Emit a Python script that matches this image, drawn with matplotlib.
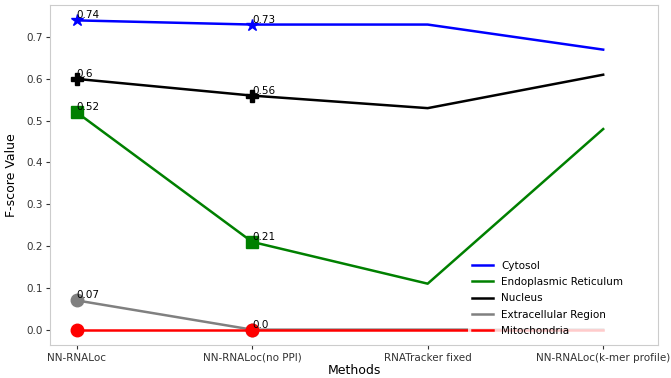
import matplotlib
matplotlib.use('Agg')
import matplotlib.pyplot as plt

# data
methods = ['NN-RNALoc', 'NN-RNALoc(no PPI)', 'RNATracker fixed', 'NN-RNALoc(k-mer profile)']
cytosol = [0.74, 0.73, 0.73, 0.67]
er = [0.52, 0.21, 0.11, 0.48]
nucleus = [0.60, 0.56, 0.53, 0.61]
extracellular = [0.07, 0.0, 0.0, 0.0]
mito = [0.0, 0.0, 0.0, 0.0]

series = [
    ('Cytosol', cytosol, 'blue', '*', True),
    ('Endoplasmic Reticulum', er, 'green', 's', True),
    ('Nucleus', nucleus, 'black', 'P', True),
    ('Extracellular Region', extracellular, 'grey', 'o', True),
    ('Mitochondria', mito, 'red', 'o', False),
]

fig, ax = plt.subplots(figsize=(6.71, 3.78), dpi=100)
x = list(range(len(methods)))

for name, vals, col, mk, annotate in series:
    ax.plot(x, vals, color=col, linewidth=1.8, label=name)
    # markers + labels only on the first two methods
    ax.plot(x[:2], vals[:2], color=col, marker=mk, markersize=9, linestyle='none')
    if annotate:
        for xi, v in zip(x[:2], vals[:2]):
            ax.text(xi, v, str(v), fontsize=7.5, va='bottom', ha='left')

ax.set_xlim(-0.15, 3.31)
ax.set_xticks(x)
ax.set_xticklabels(methods, fontsize=7.5)
ax.tick_params(axis='y', labelsize=7.5)
ax.tick_params(colors='#333333', length=3, pad=2.5)
ax.set_xlabel('Methods', fontsize=9, labelpad=1)
ax.set_ylabel('F-score Value', fontsize=9, labelpad=6)
for s in ax.spines.values():
    s.set_color('#cccccc')

leg = ax.legend(loc='lower right', fontsize=7.5, frameon=True, framealpha=0.8,
                edgecolor='none', borderaxespad=0, labelspacing=0.6,
                bbox_to_anchor=(0.95, 0.015))

plt.subplots_adjust(left=0.075, right=0.98, top=0.987, bottom=0.087)
plt.savefig('out.png', dpi=100)
